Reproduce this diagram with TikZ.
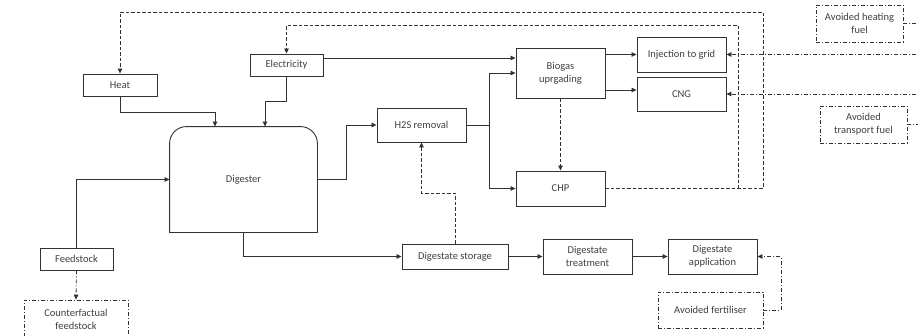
\documentclass[tikz,border=0pt]{standalone}
\usepackage{fontspec}
\setmainfont{Carlito}
\usetikzlibrary{arrows.meta,calc}
\definecolor{ln}{HTML}{333333}
\definecolor{tx}{HTML}{404040}
\tikzset{
  wh/.style 2 args={minimum width=#1pt, minimum height=#2pt},
  box/.style={draw=ln, line width=0.9pt, inner sep=0pt, align=center, text=tx,
    font=\fontsize{10.5}{13}\selectfont},
  avbox/.style={box, line width=0.8pt, dash pattern=on 4pt off 2pt on 1pt off 2pt},
  conn/.style={draw=ln, line width=0.8pt},
  arr/.style={conn, -{Triangle[length=5pt,width=4.5pt]}},
  dsh/.style={dash pattern=on 3.5pt off 2pt},
  dd/.style={dash pattern=on 4pt off 2pt on 1pt off 2pt}
}
\begin{document}
\begin{tikzpicture}[x=1pt,y=-1pt]
\useasboundingbox (0,0) rectangle (918,335);
\clip (0,0) rectangle (918,335);
\fill[white] (0,0) rectangle (918,335);

% nodes
\node[box, wh={74}{22}] (heat) at (120,85) {Heat};
\node[box, wh={73}{22}] (elec) at (286.5,65) {Electricity};
\node[box, draw=none, wh={147}{105}] (dig) at (243.5,179.5) {Digester};
\draw[ln, line width=0.9pt] (dig.south west) -- ([yshift=-17pt]dig.north west)
  arc[start angle=180, end angle=90, radius=17pt] -- ([xshift=-17pt]dig.north east)
  arc[start angle=90, end angle=0, radius=17pt] -- (dig.south east) -- cycle;
\node[box, wh={89}{34}] (h2s) at (421.5,125) {H2S removal};
\node[box, wh={89}{50}] (bio) at (560.5,73) {Biogas\\uprgading};
\node[box, wh={89}{35}] (inj) at (681.5,54.5) {Injection to grid};
\node[box, wh={89}{34}] (cng) at (681.5,94) {CNG};
\node[box, wh={89}{35}] (chp) at (560.5,188.5) {CHP};
\node[box, wh={106}{25}] (stor) at (455,256.5) {Digestate storage};
\node[box, wh={89}{35}] (treat) at (587.5,256.5) {Digestate\\treatment};
\node[box, wh={89}{35}] (appl) at (712.5,256.5) {Digestate\\application};
\node[box, wh={73}{22}] (feed) at (76.5,259) {Feedstock};
\node[avbox, wh={104}{38}] (cf) at (76,319) {Counterfactual\\feedstock};
\node[avbox, wh={87}{37}] (ahf) at (859.5,23.5) {Avoided heating\\fuel};
\node[avbox, wh={87}{37}] (atf) at (863.5,124.5) {Avoided\\transport fuel};
\node[avbox, wh={105}{36}] (afert) at (710.5,310) {Avoided fertiliser};

% helper coordinates
\coordinate (hbend) at (215,112);
\coordinate (ebend) at (265,101);
\coordinate (ey) at (0,58);
\coordinate (dh) at (346,0);
\coordinate (split) at (489,125);
\coordinate (cy) at (0,90);
\coordinate (o1) at (763,12);
\coordinate (i1) at (738,25);
\coordinate (sb) at (0,193);
\coordinate (fr) at (781,0);
\coordinate (edge) at (925,0);

% solid flows
\draw[arr] (heat.south) |- (hbend) -- (hbend |- dig.north);
\draw[arr] (elec.south) |- (ebend) -- (ebend |- dig.north);
\draw[arr] (elec.east |- ey) -- (bio.west |- ey);
\draw[arr] (feed.north) |- (dig.west);
\draw[arr] (dig.east) -| (dh |- h2s.west) -- (h2s.west);
\draw[conn] (h2s.east) -- (split);
\draw[arr] (split) |- (bio.west);
\draw[arr] (split) |- (chp.west);
\draw[arr] (bio.east |- inj.west) -- (inj.west);
\draw[arr] (bio.east |- cy) -- (cng.west |- cy);
\draw[arr] (dig.south) |- (stor.west);
\draw[arr] (stor.east) -- (treat.west);
\draw[arr] (treat.east) -- (appl.west);

% dashed feedbacks
\draw[arr, dsh] (bio.south) -- (chp.north);
\draw[arr, dsh] (chp.east) -| (o1) -| (heat.north);
\draw[arr, dsh] (i1 |- chp.east) -- (i1) -| (elec.north);
\draw[arr, dsh] (stor.north) -- (stor.north |- sb) -| (h2s.south);

% dash-dot (avoided)
\draw[arr, dd] (afert.east) -| (fr |- appl.east) -- (appl.east);
\draw[arr, dd] (feed.south) -- (cf.north);
\draw[arr, dd] (edge |- inj.east) -- (inj.east);
\draw[arr, dd] (edge |- cng.east) -- (cng.east);
\draw[conn, dd] (ahf.east) -- (edge |- ahf.east);
\draw[conn, dd] (atf.east) -- (edge |- atf.east);
\end{tikzpicture}
\end{document}
